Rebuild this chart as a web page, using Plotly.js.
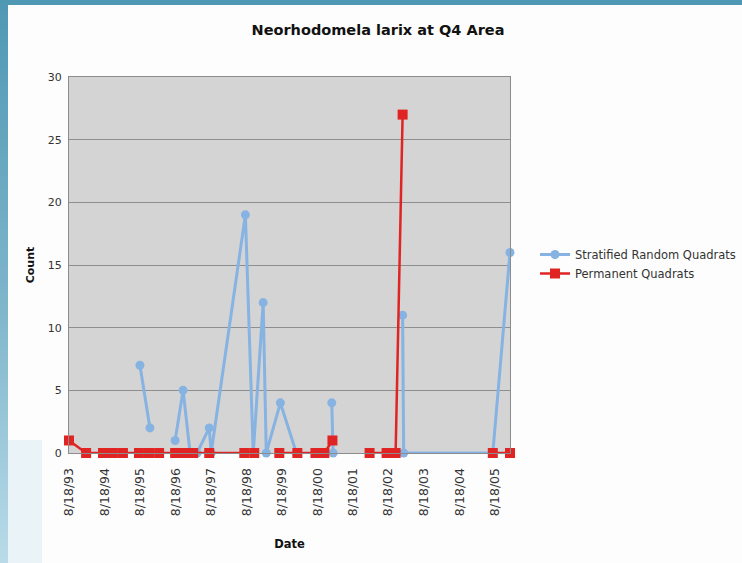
<!DOCTYPE html>
<html>
<head>
<meta charset="utf-8">
<script src="https://cdn.plot.ly/plotly-3.0.1.min.js"></script>
<style>
  html, body { margin: 0; padding: 0; }
  body { width: 742px; height: 563px; overflow: hidden; position: relative;
         background: linear-gradient(180deg, #4f98b3 0%, #7fb6cc 55%, #b9dbe8 100%); }
  #frame { position: absolute; left: 8px; top: 5px; width: 734px; height: 558px; background: #fdfdfd; }
  #corner { position: absolute; left: 8px; top: 440px; width: 34px; height: 123px; background: #eaf3f7; }
  #chart { position: absolute; left: 8px; top: 5px; width: 734px; height: 558px; }
</style>
</head>
<body>
<div id="frame"></div>
<div id="corner"></div>
<div id="chart"></div>
<script>
// Stratified Random Quadrats (null = break in line)
const stratDates = ['1995-08-18','1995-11-29','1996-03-01','1996-08-14','1996-11-04','1997-01-15','1997-03-28','1997-07-31','1997-08-20','1998-08-07','1998-10-27','1999-02-06','1999-03-10','1999-08-02','2000-01-14','2000-06-01','2001-01-12','2001-01-26','2002-01-01','2003-01-11','2003-01-22','2005-07-27','2006-01-20'];
const stratCounts = [7, 2, null, 1, 5, 0, 0, 2, 0, 19, 0, 12, 0, 4, 0, null, 4, 0, null, 11, 0, 0, 16];

// Permanent Quadrats (null = break in line)
const permDates = ['1993-08-18','1994-02-10','1994-08-03','1994-11-13','1995-02-24','1995-08-08','1995-11-19','1996-03-02','1996-08-14','1996-11-15','1997-02-16','1997-07-31','1998-07-27','1998-11-06','1999-03-01','1999-07-22','2000-01-24','2000-07-28','2000-10-28','2001-01-19','2001-08-01','2002-02-05','2002-07-30','2002-10-31','2003-01-11','2004-06-01','2005-07-27','2006-01-20'];
const permCounts = [1, 0, 0, 0, 0, 0, 0, 0, 0, 0, 0, 0, 0, 0, null, 0, 0, 0, 0, 1, null, 0, 0, 0, 27, null, 0, 0];

const tickDates = ['1993-08-18','1994-08-18','1995-08-18','1996-08-18','1997-08-18','1998-08-18','1999-08-18','2000-08-18','2001-08-18','2002-08-18','2003-08-18','2004-08-18','2005-08-18'];
const tickLabels = ['8/18/93','8/18/94','8/18/95','8/18/96','8/18/97','8/18/98','8/18/99','8/18/00','8/18/01','8/18/02','8/18/03','8/18/04','8/18/05'];
const yTicks = [0, 5, 10, 15, 20, 25, 30];

const traces = [
  {
    name: 'Stratified Random Quadrats',
    x: stratDates, y: stratCounts,
    type: 'scatter', mode: 'lines+markers',
    connectgaps: false, cliponaxis: false,
    line: { color: '#86b3e2', width: 3 },
    marker: { symbol: 'circle', size: 9, color: '#86b3e2' }
  },
  {
    name: 'Permanent Quadrats',
    x: permDates, y: permCounts,
    type: 'scatter', mode: 'lines+markers',
    connectgaps: false, cliponaxis: false,
    line: { color: '#e02424', width: 2.5 },
    marker: { symbol: 'square', size: 10, color: '#e02424' }
  }
];

const layout = {
  width: 734, height: 558,
  paper_bgcolor: 'rgba(0,0,0,0)',
  plot_bgcolor: '#d4d4d4',
  margin: { l: 61, r: 232, t: 72, b: 110 },
  font: { family: 'DejaVu Sans, sans-serif', color: '#333' },
  title: {
    text: '<b>Neorhodomela larix at Q4 Area</b>',
    font: { family: 'DejaVu Sans, sans-serif', size: 14.5, color: '#111' },
    x: (378 - 8) / 734, xref: 'container', xanchor: 'center',
    y: 1 - (30 - 5) / 558, yref: 'container', yanchor: 'middle'
  },
  xaxis: {
    type: 'date',
    range: ['1993-08-18', '2006-01-20'],
    tickmode: 'array', tickvals: tickDates, ticktext: tickLabels,
    tickangle: -90,
    tickfont: { family: 'DejaVu Sans, sans-serif', size: 12.5, color: '#333' },
    showgrid: false, zeroline: false,
    showline: true, linecolor: '#8c8c8c', linewidth: 1, mirror: true,
    ticks: 'outside', ticklen: 9, tickcolor: 'rgba(0,0,0,0)',
    title: { text: '<b>Date</b>', font: { size: 11.5, color: '#111' }, standoff: 24 }
  },
  yaxis: {
    range: [0, 30],
    tickmode: 'array', tickvals: yTicks,
    tickfont: { family: 'DejaVu Sans, sans-serif', size: 11, color: '#333' },
    showgrid: true, gridcolor: '#8e8e8e', gridwidth: 1,
    zeroline: false,
    showline: true, linecolor: '#8c8c8c', linewidth: 1, mirror: true,
    ticks: 'outside', ticklen: 4, tickcolor: 'rgba(0,0,0,0)',
    title: { text: '<b>Count</b>', font: { size: 11, color: '#111' }, standoff: 10 }
  },
  legend: {
    x: (535 - 8) / 734, y: 1 - (240 - 5) / 558, xref: 'container', yref: 'container',
    xanchor: 'left', yanchor: 'top',
    bgcolor: 'rgba(0,0,0,0)',
    font: { family: 'DejaVu Sans, sans-serif', size: 11.5, color: '#333' },
    tracegroupgap: 0, itemwidth: 30
  },
  showlegend: true
};

Plotly.newPlot('chart', traces, layout, { displayModeBar: false, staticPlot: true });
</script>
</body>
</html>
